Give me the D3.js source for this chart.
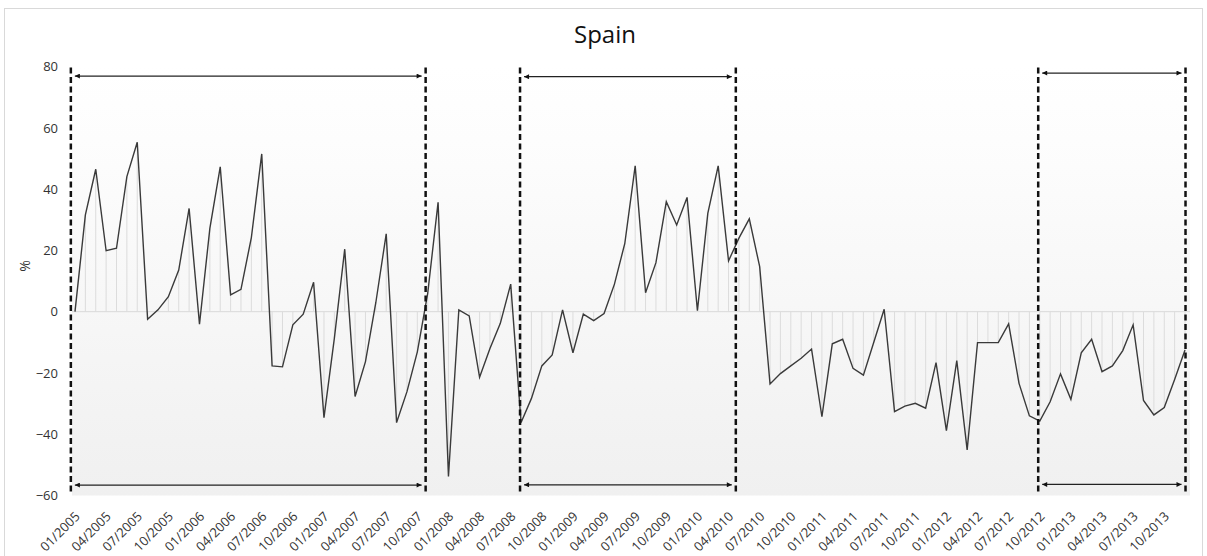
<!DOCTYPE html>
<html>
<head>
<meta charset="utf-8">
<script src="https://cdn.jsdelivr.net/npm/d3@7"></script>
<style>
  html, body { margin: 0; padding: 0; background: #fff; }
  svg { display: block; font-family: "Open Sans", sans-serif; }
</style>
</head>
<body>
<svg id="chart" width="1207" height="556"></svg>
<script>
// monthly values (%), 01/2005 .. 12/2013
const values = [
  0, 31.6, 46.5, 19.9, 20.7, 44.1, 55.3, -2.5, 0.6, 4.9, 13.6, 33.7,
  -4.1, 27.2, 47.3, 5.5, 7.3, 24.2, 51.5, -17.7, -18.0, -4.3, -0.8, 9.6,
  -34.6, -8.7, 20.4, -27.7, -16.3, 3.0, 25.4, -36.2, -26.1, -13.1, 6.0, 35.7,
  -53.8, 0.6, -1.4, -21.4, -12.0, -3.8, 9.0, -36.2, -28.3, -17.7, -14.1, 0.6,
  -13.4, -0.8, -2.9, -0.6, 9.0, 22.3, 47.6, 6.2, 16.0, 35.9, 28.3, 37.3,
  0.3, 32.1, 47.6, 16.6, 24.0, 30.3, 14.7, -23.6, -20.2, -17.7, -15.2, -12.2,
  -34.3, -10.5, -9.0, -18.5, -20.7, -10.0, 0.8, -32.6, -30.8, -29.9, -31.5, -16.6,
  -38.8, -16.0, -45.1, -10.1, -10.1, -10.1, -4.0, -23.4, -34.0, -35.7, -29.4, -20.3,
  -28.6, -13.4, -9.0, -19.6, -17.7, -12.7, -4.3, -29.0, -33.7, -31.3, -22.1, -12.5
];

const tickLabels = [
  "01/2005", "04/2005", "07/2005", "10/2005",
  "01/2006", "04/2006", "07/2006", "10/2006",
  "01/2007", "04/2007", "07/2007", "10/2007",
  "01/2008", "04/2008", "07/2008", "10/2008",
  "01/2009", "04/2009", "07/2009", "10/2009",
  "01/2010", "04/2010", "07/2010", "10/2010",
  "01/2011", "04/2011", "07/2011", "10/2011",
  "01/2012", "04/2012", "07/2012", "10/2012",
  "01/2013", "04/2013", "07/2013", "10/2013"
];

const yTicks = [-60, -40, -20, 0, 20, 40, 60, 80];

// marked periods, in month index units (0 = 01/2005)
const periodStart = [-0.4, 42.9, 92.85];
const periodEnd = [33.8, 63.7, 107.05];
const arrowTop = [76.9, 76.7, 77.9];
const arrowBottom = [-56.6, -56.5, -56.4];

const TITLE = "Spain",
      Y_LABEL = "%",
      PLOT_LEFT = 72,
      PLOT_RIGHT = 1190,
      ARROW_INSET = 4;

function labelIndex(label) {
  let month = +label.slice(0, 2),
      year = +label.slice(3);
  return (year - 2005) * 12 + month - 1;
}

const svg = d3.select("#chart");

const x = d3.scaleLinear().domain([0, values.length - 1]).range([75, 1185]);
const y = d3.scaleLinear().domain([-60, 80]).range([495.5, 66.6]);

// outer frame
svg.append("rect")
  .attr("x", 4.5)
  .attr("y", 8.5)
  .attr("width", 1198)
  .attr("height", 600)
  .attr("fill", "#fff")
  .attr("stroke", "#d9d9d9");

let defs = svg.append("defs");

let grad = defs.append("linearGradient")
  .attr("id", "plotfill")
  .attr("x1", 0).attr("y1", 0)
  .attr("x2", 0).attr("y2", 1);
grad.append("stop").attr("offset", "0").attr("stop-color", "#ffffff");
grad.append("stop").attr("offset", "0.17").attr("stop-color", "#fdfdfd");
grad.append("stop").attr("offset", "1").attr("stop-color", "#f0f0f0");

defs.append("marker")
  .attr("id", "head")
  .attr("viewBox", "0 0 10 10")
  .attr("refX", 10)
  .attr("refY", 5)
  .attr("markerWidth", 6)
  .attr("markerHeight", 5)
  .attr("markerUnits", "userSpaceOnUse")
  .attr("orient", "auto-start-reverse")
  .append("path")
  .attr("d", "M0,0 L10,5 L0,10 z")
  .attr("fill", "#111");

// plot area
svg.append("rect")
  .attr("x", PLOT_LEFT)
  .attr("y", y(80))
  .attr("width", PLOT_RIGHT - PLOT_LEFT)
  .attr("height", y(-60) - y(80))
  .attr("fill", "url(#plotfill)");

// zero line
svg.append("line")
  .attr("x1", PLOT_LEFT)
  .attr("x2", PLOT_RIGHT)
  .attr("y1", y(0))
  .attr("y2", y(0))
  .attr("stroke", "#d9d9d9")
  .attr("stroke-width", 1);

// drop lines
svg.append("g")
  .selectAll("line")
  .data(values)
  .join("line")
  .attr("x1", (d, i) => x(i))
  .attr("x2", (d, i) => x(i))
  .attr("y1", y(0))
  .attr("y2", d => y(d))
  .attr("stroke", "#dcdcdc")
  .attr("stroke-width", 1);

// series
let line = d3.line()
  .x((d, i) => x(i))
  .y(d => y(d));

svg.append("path")
  .datum(values)
  .attr("d", line)
  .attr("fill", "none")
  .attr("stroke", "#3a3a3a")
  .attr("stroke-width", 1.4)
  .attr("stroke-linejoin", "miter");

// y axis
let yAxis = svg.append("g")
  .attr("transform", "translate(" + 58 + ",0)")
  .call(d3.axisLeft(y).tickValues(yTicks).tickSize(0).tickPadding(0).tickFormat(d3.format("d")));
yAxis.select(".domain").remove();
yAxis.selectAll("text")
  .attr("font-family", "Open Sans, sans-serif")
  .attr("font-size", 13)
  .attr("fill", "#333");

svg.append("text")
  .attr("transform", "translate(30," + 266 + ") rotate(-90)")
  .attr("text-anchor", "middle")
  .attr("font-size", 14)
  .attr("fill", "#333")
  .text(Y_LABEL);

// x axis
let xAxis = svg.append("g")
  .attr("transform", "translate(2," + 514 + ")")
  .call(d3.axisBottom(x)
    .tickValues(tickLabels.map(labelIndex))
    .tickSize(0)
    .tickFormat((d, i) => tickLabels[i]));
xAxis.select(".domain").remove();
xAxis.selectAll("text")
  .attr("font-family", "Open Sans, sans-serif")
  .attr("font-size", 13)
  .attr("fill", "#333")
  .attr("text-anchor", "end")
  .attr("x", 0)
  .attr("y", 0)
  .attr("dy", "0.35em")
  .attr("transform", "rotate(-45)");

// period markers
let periods = periodStart.map((s, i) => ({
  start: s, end: periodEnd[i], top: arrowTop[i], bottom: arrowBottom[i]
}));

let pg = svg.append("g");

pg.selectAll("line.bound")
  .data(periods.flatMap(p => [p.start, p.end]))
  .join("line")
  .attr("class", "bound")
  .attr("x1", d => x(d))
  .attr("x2", d => x(d))
  .attr("y1", y(80) + 1)
  .attr("y2", y(-60) - 1)
  .attr("stroke", "#111")
  .attr("stroke-width", 2.5)
  .attr("stroke-dasharray", "6,3.5");

pg.selectAll("line.arrow")
  .data(periods.flatMap(p => [{p: p, v: p.top}, {p: p, v: p.bottom}]))
  .join("line")
  .attr("class", "arrow")
  .attr("x1", d => x(d.p.start) + ARROW_INSET)
  .attr("x2", d => x(d.p.end) - ARROW_INSET)
  .attr("y1", d => y(d.v))
  .attr("y2", d => y(d.v))
  .attr("stroke", "#222")
  .attr("stroke-width", 1.2)
  .attr("marker-start", "url(#head)")
  .attr("marker-end", "url(#head)");

// title
svg.append("text")
  .attr("x", 605)
  .attr("y", 43)
  .attr("text-anchor", "middle")
  .attr("font-size", 24)
  .attr("fill", "#111")
  .text(TITLE);
</script>
</body>
</html>
